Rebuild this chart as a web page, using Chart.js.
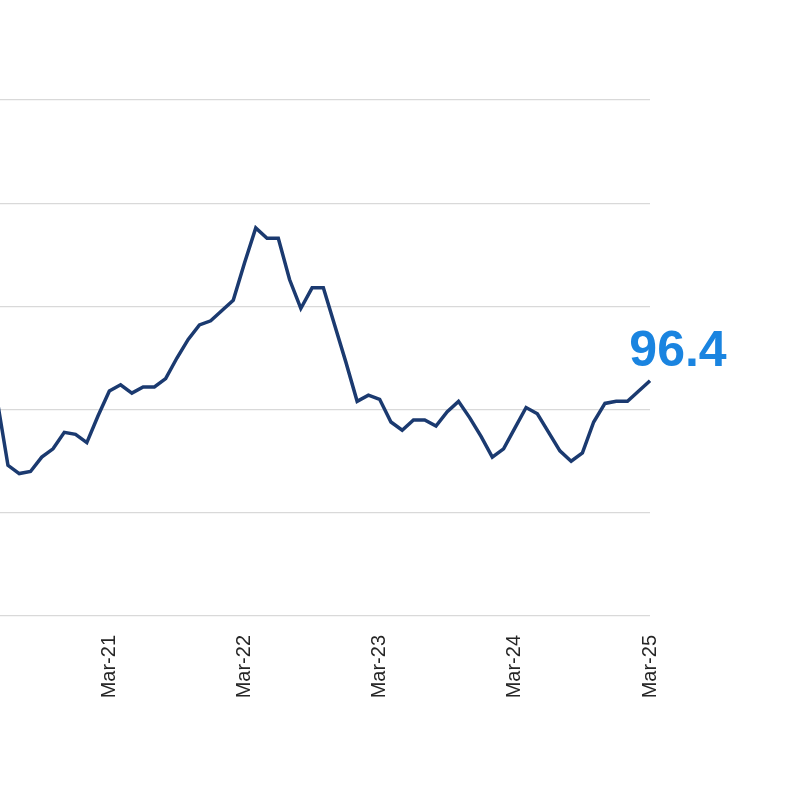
<!DOCTYPE html>
<html>
<head>
<meta charset="utf-8">
<script src="https://cdn.jsdelivr.net/npm/chart.js@4"></script>
<style>
  html, body { margin: 0; padding: 0; background: #fff; overflow: hidden; }
  #wrap { position: absolute; left: -60px; top: 0; width: 860px; height: 800px; }
</style>
</head>
<body>
<div id="wrap"><canvas id="chart"></canvas></div>
<script>
const months = [
  "May-20", "Jun-20", "Jul-20", "Aug-20", "Sep-20", "Oct-20", "Nov-20", "Dec-20",
  "Jan-21", "Feb-21", "Mar-21", "Apr-21", "May-21", "Jun-21", "Jul-21", "Aug-21", "Sep-21", "Oct-21", "Nov-21", "Dec-21",
  "Jan-22", "Feb-22", "Mar-22", "Apr-22", "May-22", "Jun-22", "Jul-22", "Aug-22", "Sep-22", "Oct-22", "Nov-22", "Dec-22",
  "Jan-23", "Feb-23", "Mar-23", "Apr-23", "May-23", "Jun-23", "Jul-23", "Aug-23", "Sep-23", "Oct-23", "Nov-23", "Dec-23",
  "Jan-24", "Feb-24", "Mar-24", "Apr-24", "May-24", "Jun-24", "Jul-24", "Aug-24", "Sep-24", "Oct-24", "Nov-24", "Dec-24",
  "Jan-25", "Feb-25", "Mar-25"
];

const index = [
  95.6, 92.3, 91.9, 92.0, 92.7, 93.1, 93.9, 93.8,
  93.4, 94.7, 95.9, 96.2, 95.8, 96.1, 96.1, 96.5, 97.5, 98.4, 99.1, 99.3,
  99.8, 100.3, 102.1, 103.8, 103.3, 103.3, 101.3, 99.9, 100.9, 100.9, 99.1, 97.3,
  95.4, 95.7, 95.5, 94.4, 94.0, 94.5, 94.5, 94.2, 94.9, 95.4, 94.6, 93.7,
  92.7, 93.1, 94.1, 95.1, 94.8, 93.9, 93.0, 92.5, 92.9, 94.4, 95.3, 95.4,
  95.4, 95.9, 96.4
];

const yMin = 85;
const yMax = 110;
const yStep = 5;

const lineColor = "#1b3a70";
const labelColor = "#1a84e0";

// big value label next to the last point
const lastValueLabel = {
  id: "lastValueLabel",
  afterDatasetsDraw(chart) {
    const meta = chart.getDatasetMeta(0);
    const pt = meta.data[meta.data.length - 1];
    const ctx = chart.ctx;
    ctx.save();
    ctx.font = "bold 50px 'Liberation Sans', Arial, sans-serif";
    ctx.fillStyle = labelColor;
    ctx.textAlign = "center";
    ctx.textBaseline = "alphabetic";
    ctx.fillText(index[index.length - 1].toFixed(1), pt.x + 28, pt.y - 15);
    ctx.restore();
  }
};

new Chart(document.getElementById("chart"), {
  type: "line",
  data: {
    labels: months,
    datasets: [
      {
        data: index,
        borderColor: lineColor,
        borderWidth: 3.5,
        pointRadius: 0,
        tension: 0,
        fill: false,
      },
    ],
  },
  options: {
    responsive: true,
    maintainAspectRatio: false,
    animation: false,
    layout: {
      padding: { left: 56.7, right: 150, top: 100, bottom: 0 },
    },
    plugins: {
      legend: { display: false },
      tooltip: { enabled: false },
    },
    scales: {
      x: {
        grid: { display: false },
        border: { display: false },
        afterFit: (axis) => { axis.height = 184; },
        ticks: {
          autoSkip: false,
          maxRotation: 90,
          minRotation: 90,
          padding: 11,
          color: "#262626",
          font: { family: "'Liberation Sans', Arial, sans-serif", size: 20 },
          callback: (val, i) => (months[i].startsWith("Mar") ? months[i] : ""),
        },
      },
      y: {
        min: yMin,
        max: yMax,
        afterFit: (axis) => { axis.width = 0; },
        border: { display: false },
        grid: { color: "#d9d9d9", lineWidth: 1.2, drawTicks: false },
        ticks: { display: false, stepSize: yStep },
      },
    },
  },
  plugins: [lastValueLabel],
});
</script>
</body>
</html>
